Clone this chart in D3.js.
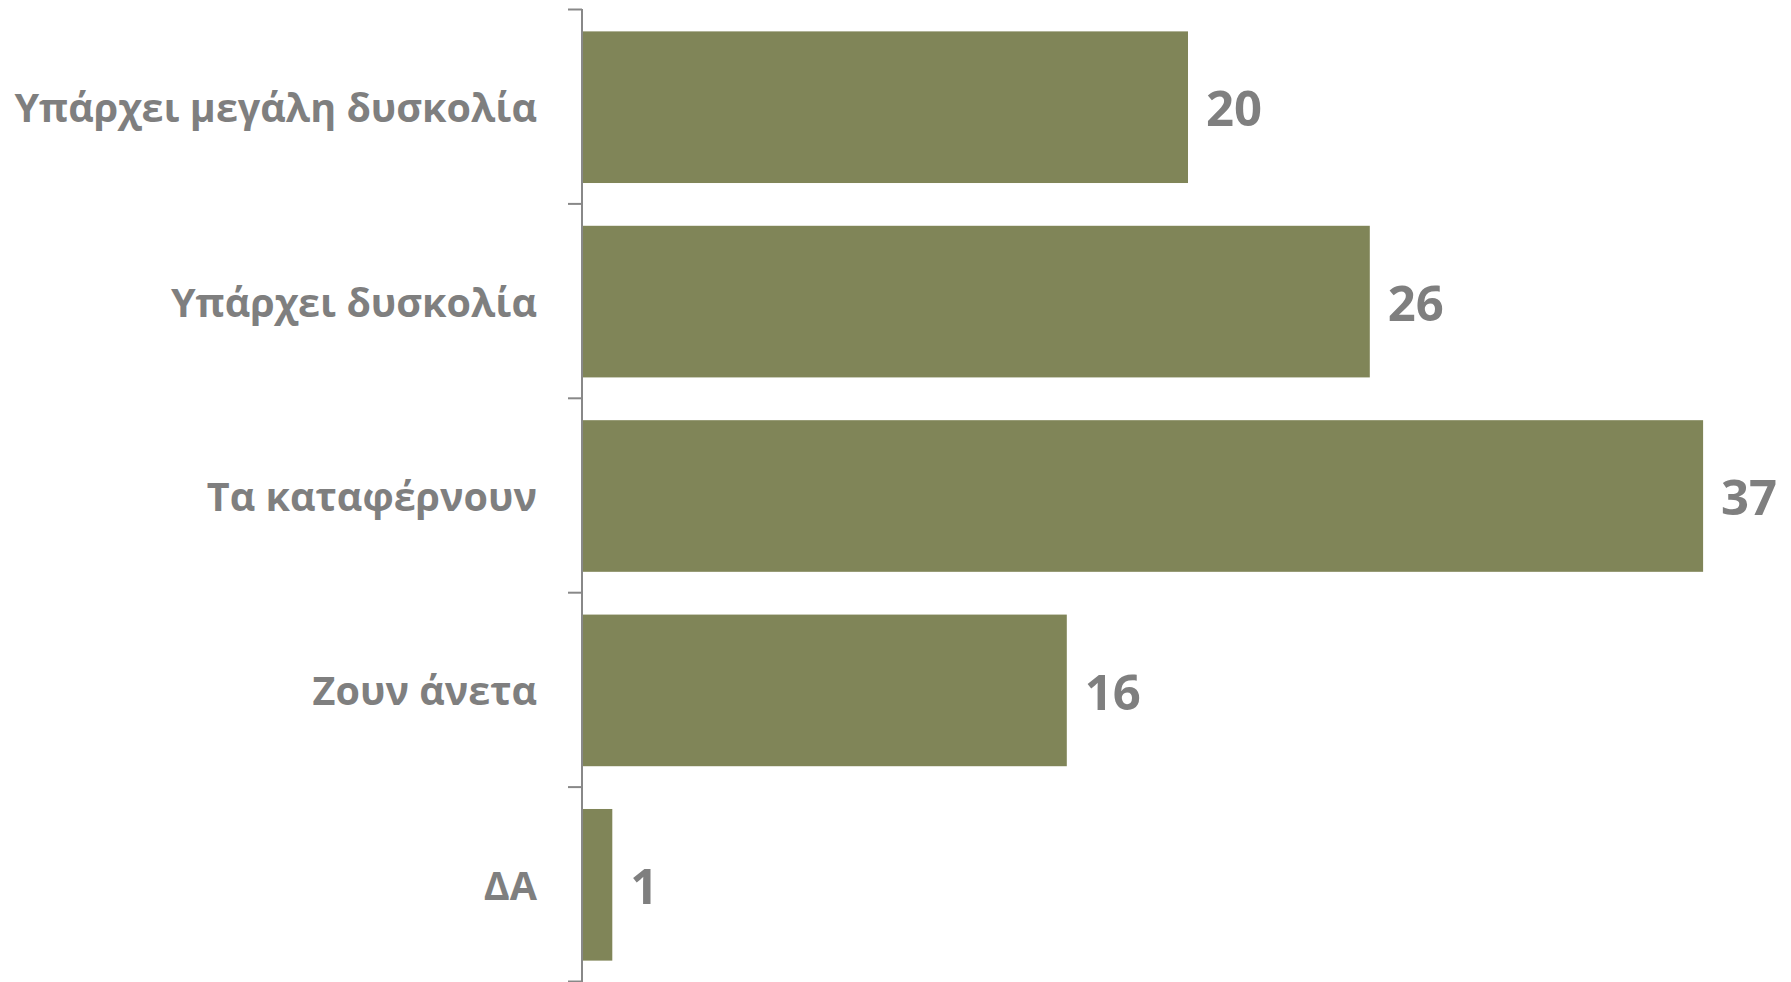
<!DOCTYPE html>
<html><head><meta charset="utf-8">
<script src="https://cdn.jsdelivr.net/npm/d3@7"></script>
<style>html,body{margin:0;padding:0;background:#fff;}svg{display:block;}</style>
</head><body>
<svg id="chart" width="1791" height="982"></svg>
<script>
const categories = ["Υπάρχει μεγάλη δυσκολία", "Υπάρχει δυσκολία", "Τα καταφέρνουν", "Ζουν άνετα", "ΔΑ"];
const values = [20, 26, 37, 16, 1];
const xMax = 40;

const svg = d3.select("#chart");
const axisX = 582;
const y = d3.scaleBand().domain(categories).range([10, 982]).paddingInner(0.22).paddingOuter(0.11);
const x = d3.scaleLinear().domain([0, xMax]).range([axisX, 1794]);

const barColor = "#808558";
const textColor = "#7f7f7f";
const font = "'Open Sans', sans-serif";

svg.selectAll("rect.bar").data(categories).join("rect")
  .attr("class", "bar")
  .attr("x", x(0))
  .attr("y", d => y(d))
  .attr("width", (d, i) => x(values[i]) - x(0))
  .attr("height", y.bandwidth())
  .attr("fill", barColor);

const ax = svg.append("g").attr("transform", `translate(${axisX},0)`);
ax.append("line").attr("x1", 0).attr("x2", 0).attr("y1", 9).attr("y2", 982)
  .attr("stroke", "#888").attr("stroke-width", 2);
const bounds = d3.range(categories.length + 1).map(i => 9.5 + i * (972 / categories.length));
ax.selectAll("line.tick").data(bounds).join("line").attr("class", "tick")
  .attr("x1", -14).attr("x2", 0).attr("y1", d => d).attr("y2", d => d)
  .attr("stroke", "#888").attr("stroke-width", 2);

svg.selectAll("text.cat").data(categories).join("text")
  .attr("class", "cat")
  .attr("x", 537)
  .attr("y", d => y(d) + y.bandwidth() / 2)
  .attr("dy", "0.38em")
  .attr("text-anchor", "end")
  .attr("font-family", font).attr("font-weight", "bold").attr("font-size", 39.5)
  .attr("fill", textColor)
  .text(d => d);

svg.selectAll("text.val").data(categories).join("text")
  .attr("class", "val")
  .attr("x", (d, i) => x(values[i]) + 18)
  .attr("y", d => y(d) + y.bandwidth() / 2)
  .attr("dy", "0.39em")
  .attr("font-family", font).attr("font-weight", "bold").attr("font-size", 49)
  .attr("fill", textColor)
  .text((d, i) => values[i]);
</script>
</body></html>
